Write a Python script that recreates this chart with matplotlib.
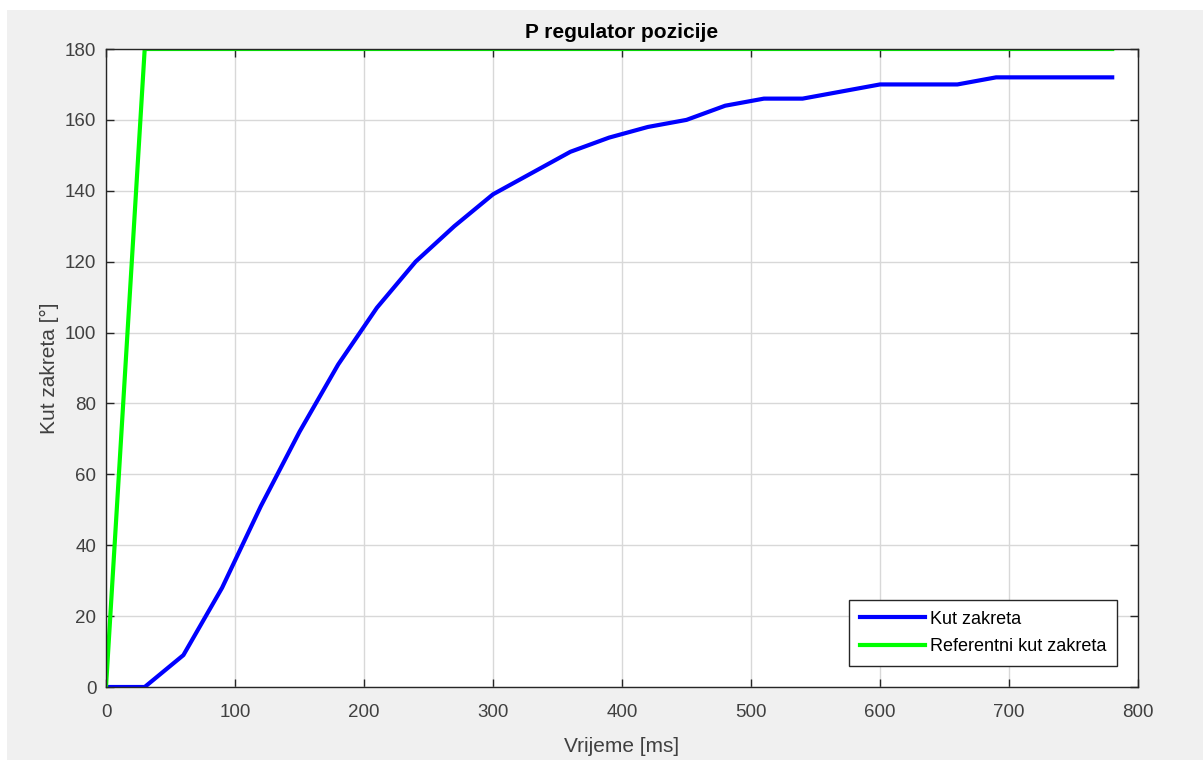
import numpy as np
import matplotlib.pyplot as plt
from matplotlib.patches import Rectangle

plt.rcParams['font.family'] = ['Liberation Sans', 'DejaVu Sans']

# values (time in ms, angle in degrees)
t_kut = [0, 30, 60, 90, 120, 150, 180, 210, 240, 270, 300, 330, 360, 390,
         420, 450, 480, 510, 540, 570, 600, 630, 660, 690, 720, 750, 780]
kut = [0, 0, 9, 28, 51, 72, 91, 107, 120, 130, 139, 145, 151, 155,
       158, 160, 164, 166, 166, 168, 170, 170, 170, 172, 172, 172, 172]

t_ref = [0, 30, 780]
kut_ref = [0, 180, 180]

xticks = np.arange(0, 801, 100)
yticks = np.arange(0, 181, 20)

W, H = 1203, 760
fig = plt.figure(figsize=(W / 100, H / 100), dpi=100)
fig.patch.set_facecolor('white')
# gray MATLAB figure background, with a thin white border top/left
fig.patches.append(Rectangle((7 / W, 0), 1 - 7 / W, 1 - 10 / H,
                             transform=fig.transFigure, facecolor='#f0f0f0',
                             edgecolor='none', zorder=-10))

ax = fig.add_axes([106 / W, 1 - 687 / H, (1138 - 106) / W, (687 - 49) / H])
ax.set_facecolor('white')

ax.plot(t_kut, kut, color='#0000ff', lw=3, label='Kut zakreta', zorder=3)
ax.plot(t_ref, kut_ref, color='#00ff00', lw=3, label='Referentni kut zakreta',
        zorder=3)

ax.set_xlim(0, 800)
ax.set_ylim(0, 180)
ax.set_xticks(xticks)
ax.set_yticks(yticks)
ax.grid(True, color='#d8d8d8', lw=1)
ax.set_axisbelow(True)

ax.tick_params(direction='in', top=True, right=True, length=6, width=1,
               colors='#262626', labelsize=13.5, labelcolor='#404040', pad=7)
ax.tick_params(axis='x', pad=12)
for s in ax.spines.values():
    s.set_color('#262626')
    s.set_linewidth(1)
    s.set_zorder(4)

ax.set_title('P regulator pozicije', fontsize=15, fontweight='bold',
             color='black', pad=8)
ax.set_xlabel('Vrijeme [ms]', fontsize=15, color='#404040', labelpad=12)
ax.set_ylabel('Kut zakreta [°]', fontsize=15, color='#404040', labelpad=4)

leg = ax.legend(loc='lower right', fontsize=13, fancybox=False,
                edgecolor='#262626', framealpha=1, handlelength=3.6,
                borderaxespad=1.15, handletextpad=0.3, borderpad=0.6,
                labelspacing=0.6)
leg.get_frame().set_linewidth(1)

fig.savefig('out.png', dpi=100, facecolor=fig.get_facecolor())
